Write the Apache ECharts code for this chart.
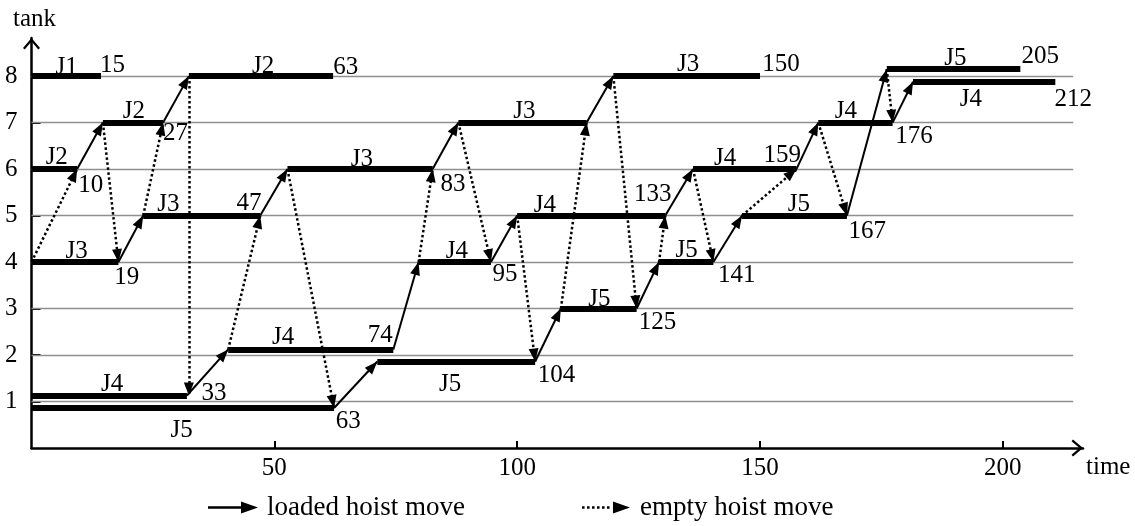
<!DOCTYPE html>
<html><head><meta charset="utf-8">
<script src="https://cdn.jsdelivr.net/npm/echarts@6/dist/echarts.min.js"></script>
<style>html,body{margin:0;padding:0;background:#fff}#c{width:1135px;height:526px}</style>
</head><body><div id="c"></div>
<script>
// ---------------- data ----------------
const xTicks = [50, 100, 150, 200];
const tanks = [1, 2, 3, 4, 5, 6, 7, 8];

// tank occupation bars (job, level, start time, end time)
const barJob   = ['J1','J2','J2','J2','J3','J3','J3','J3','J3','J4','J5','J4','J5','J4','J4','J4','J4','J4','J5','J5','J5','J5'];
const barTank  = [8, 6, 7, 8, 4, 5, 6, 7, 8, 1.13, 0.86, 2.12, 1.86, 4, 5, 6, 7, 7.88, 8.15, 3, 4, 5];
const barStart = [0, 0, 14.7, 32.4, 0, 23, 52.7, 87.9, 119.8, 0, 0, 40.5, 71.2, 79.7, 100, 136.2, 162, 181.5, 176.1, 109, 129.2, 146.3];
const barEnd   = [14.3, 9.4, 27.1, 62.1, 17.9, 47.1, 82.6, 114.3, 150, 32, 62.3, 74.5, 103.7, 94.6, 130.5, 157.5, 177.3, 210.8, 203.6, 124.6, 140.4, 167.9];
// where each job name is written (time, tank)
const jobLabelT    = [7.25, 5.2, 21.1, 47.7, 9.3, 28.2, 68, 101.5, 135.2, 16.6, 30.9, 51.8, 86.2, 87.6, 105.7, 142.8, 167.7, 193.4, 190.2, 116.9, 134.9, 158];
const jobLabelTank = [8.19, 6.25, 7.24, 8.2, 4.22, 5.24, 6.2, 7.25, 8.25, 1.37, 0.37, 2.38, 1.36, 4.22, 5.22, 6.23, 7.24, 7.49, 8.37, 3.2, 4.24, 5.24];

// hoist moves: [fromTime, fromTank, toTime, toTank]
const loadedMoves = [
  [9.4, 6, 14.7, 7], [17.9, 4, 23, 5], [27.1, 7, 32.4, 8], [32, 1.13, 40.5, 2.12],
  [47.1, 5, 52.7, 6], [62.3, 0.86, 71.2, 1.86], [74.5, 2.12, 79.7, 4], [82.6, 6, 87.9, 7],
  [94.6, 4, 100, 5], [103.7, 1.86, 109, 3], [114.3, 7, 119.8, 8], [124.6, 3, 129.2, 4],
  [130.5, 5, 136.2, 6], [140.4, 4, 146.3, 5], [157.5, 6, 162, 7], [167.9, 5, 176.1, 8.15],
  [177.3, 7, 181.5, 7.88]
];
const emptyMoves = [
  [0, 4, 9.4, 6], [14.7, 7, 17.9, 4], [23, 5, 27.1, 7], [32.4, 8, 32.4, 1.13],
  [40.5, 2.12, 47.1, 5], [52.7, 6, 62.3, 0.86], [79.7, 4, 82.6, 6], [87.9, 7, 94.6, 4],
  [100, 5, 103.7, 1.86], [109, 3, 114.3, 7], [119.8, 8, 124.6, 3], [129.2, 4, 130.5, 5],
  [136.2, 6, 140.4, 4], [146.3, 5, 157.5, 6], [162, 7, 167.9, 5], [176.1, 8.15, 177.3, 7]
];

// completion-time annotations (text, time, tank)
const timeText = ['15','10','27','63','47','19','33','63','74','83','95','104','125','133','141','150','159','167','176','205','212'];
const timeT    = [16.7, 12.2, 29.65, 64.7, 44.8, 19.6, 37.6, 65.2, 71.8, 86.8, 97.5, 108.1, 128.9, 127.9, 145.2, 154.3, 154.6, 172.1, 181.7, 207.7, 214.5];
const timeTank = [8.23, 5.64, 6.76, 8.18, 5.26, 3.66, 1.17, 0.57, 2.42, 5.68, 3.74, 1.57, 2.71, 5.45, 3.71, 8.26, 6.29, 4.66, 6.7, 8.42, 7.5];

const gridEndT = 214.5;

// ---------------- chart ----------------
const FONT = 'Liberation Serif';
const head = 'path://M5,0L5,0M5,12L10,24L0,24Z';
const chevron = 'path://M0,10L8.5,0L17,10L15.3,11.5L8.5,3.5L1.7,11.5Z';
const loadedIcon = 'path://M0,4.8L36,4.8L36,7.2L0,7.2Z M33,0L50,6L33,12Z';
let emptyIcon = 'path://';
for (let i = 0; i < 6; i++) { const x = i * 5; emptyIcon += `M${x},4.8L${x+2.6},4.8L${x+2.6},7.2L${x},7.2Z `; }
emptyIcon += 'M31,0L48,6L31,12Z';

const moveData = m => m.map(r => ({ coords: [[r[0], r[1]], [r[2], r[3]]] }));

const chart = echarts.init(document.getElementById('c'));
chart.setOption({
  animation: false,
  backgroundColor: '#fff',
  textStyle: { fontFamily: FONT },
  grid: { left: 31.5, right: 52, top: 38, bottom: 78, outerBoundsMode: 'none', containLabel: false },
  xAxis: {
    type: 'value', min: 0, max: 216.5, interval: 50,
    name: 'time', nameLocation: 'end', nameGap: 3,
    nameTextStyle: { fontFamily: FONT, fontSize: 25, color: '#000', verticalAlign: 'top', padding: [7, 0, 0, 0] },
    axisLine: { show: true, onZero: false, lineStyle: { color: '#000', width: 2.5 },
      symbol: ['none', chevron], symbolSize: [17, 11.5], symbolOffset: [0, -5.75] },
    axisTick: { show: true, inside: true, length: 7, lineStyle: { color: '#000', width: 2 }, customValues: xTicks },
    axisLabel: { customValues: xTicks, margin: 8, fontFamily: FONT, fontSize: 25, color: '#000' },
    splitLine: { show: false }
  },
  yAxis: {
    type: 'value', min: 0, max: 8.82, interval: 1,
    name: 'tank', nameLocation: 'end', nameGap: 6,
    nameTextStyle: { fontFamily: FONT, fontSize: 25, color: '#000', align: 'center', padding: [0, 0, 0, 6] },
    axisLine: { show: true, onZero: false, lineStyle: { color: '#000', width: 2.5 },
      symbol: ['none', chevron], symbolSize: [17, 11.5], symbolOffset: [0, -5.75] },
    axisTick: { show: true, inside: true, length: 9, lineStyle: { color: '#000', width: 2 }, customValues: tanks },
    axisLabel: { customValues: tanks, margin: 14, fontFamily: FONT, fontSize: 25, color: '#000' },
    splitLine: { show: false }
  },
  legend: {
    left: 208, top: 494, padding: 0, itemWidth: 50, itemHeight: 12, itemGap: 117, selectedMode: false,
    textStyle: { fontFamily: FONT, fontSize: 27, color: '#000', padding: [0, 0, 0, 4] },
    data: [
      { name: 'loaded hoist move', icon: loadedIcon, itemStyle: { color: '#000', borderWidth: 0 } },
      { name: 'empty hoist move', icon: emptyIcon, itemStyle: { color: '#000', borderWidth: 0 } }
    ]
  },
  series: [
    { type: 'lines', name: 'grid', coordinateSystem: 'cartesian2d', z: 1, silent: true,
      lineStyle: { color: '#8f8f8f', width: 1.4, opacity: 1 },
      data: tanks.map(k => ({ coords: [[0, k], [gridEndT, k]] })) },
    { type: 'lines', name: 'bars', coordinateSystem: 'cartesian2d', z: 3, silent: true,
      lineStyle: { color: '#000', width: 6, opacity: 1, cap: 'butt' },
      data: barJob.map((j, i) => ({ coords: [[barStart[i], barTank[i]], [barEnd[i], barTank[i]]] })) },
    { type: 'lines', name: 'loaded hoist move', coordinateSystem: 'cartesian2d', z: 4, silent: true,
      symbol: ['none', head], symbolSize: [1, [10, 26]],
      lineStyle: { color: '#000', width: 2, opacity: 1 },
      data: moveData(loadedMoves) },
    { type: 'lines', name: 'empty hoist move', coordinateSystem: 'cartesian2d', z: 4, silent: true,
      symbol: ['none', head], symbolSize: [1, [10, 26]],
      lineStyle: { color: '#000', width: 2.5, opacity: 1, type: [2.5, 2.5] },
      data: moveData(emptyMoves) },
    { type: 'scatter', name: 'labels', z: 5, silent: true, symbol: 'circle', symbolSize: 2,
      itemStyle: { color: 'rgba(255,255,255,0)' },
      label: { show: true, position: 'inside', formatter: '{b}', fontFamily: FONT, fontSize: 25, color: '#000', opacity: 1 },
      data: barJob.map((j, i) => ({ name: j, value: [jobLabelT[i], jobLabelTank[i]] }))
        .concat(timeText.map((s, i) => ({ name: s, value: [timeT[i], timeTank[i]] }))) }
  ]
});
</script></body></html>
